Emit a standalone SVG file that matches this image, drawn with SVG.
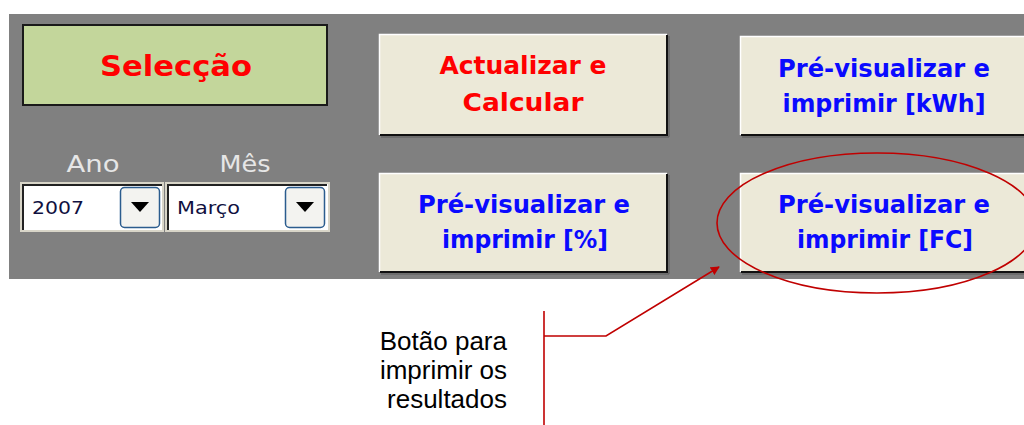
<svg xmlns="http://www.w3.org/2000/svg" width="1024" height="425" viewBox="0 0 1024 425">
<style>
.btn{fill:#ece9d8}
.hl{stroke:#ffffff;stroke-width:1.5;fill:none}
.sh{stroke:#111111;stroke-width:2;fill:none}
.sh2{stroke:#5a5a5a;stroke-width:1;fill:none}
.bt{font-family:"DejaVu Sans",Verdana,sans-serif;font-weight:bold;font-size:24px;text-anchor:middle}
.red{fill:#ff0000}
.blue{fill:#0a0aff}
.lbl{font-family:"DejaVu Sans",sans-serif;font-size:23px;fill:#e6e6e6;text-anchor:middle}
.cb{font-family:"DejaVu Sans",Tahoma,sans-serif;font-size:18px;fill:#101040}
.dd{fill:#f3f3f0;stroke:#2b5c8e;stroke-width:1.5}
.ann{stroke:#c00000;stroke-width:1.6;fill:none}
.note{font-family:"Liberation Sans",Arial,sans-serif;font-size:26px;fill:#000000;text-anchor:end}
</style>
<defs>
<marker id="arr" viewBox="0 0 10 10" refX="9" refY="5" markerWidth="9" markerHeight="9" markerUnits="userSpaceOnUse" orient="auto">
<path d="M0,0 L10,5 L0,10 z" fill="#c00000"/>
</marker>
</defs>
<rect x="0" y="0" width="1024" height="425" fill="#ffffff"/>
<rect id="panel" x="9" y="14" width="1015" height="265" fill="#808080"/>

<g id="selecao">
<rect x="23" y="25" width="304" height="80" fill="#c3d69b" stroke="#1a1a1a" stroke-width="2"/>
<text x="176" y="76" class="bt red" style="font-size:29px" textLength="152" lengthAdjust="spacingAndGlyphs">Selecção</text>
</g>

<g id="ano">
<text x="93" y="172" class="lbl" textLength="53" lengthAdjust="spacingAndGlyphs">Ano</text>
<rect x="20" y="182" width="144" height="50" fill="#d8d5c8"/>
<rect x="22" y="184" width="140" height="46" fill="#ffffff"/>
<path d="M23,230 V185 H162" stroke="#222222" stroke-width="2" fill="none"/>
<text x="32" y="214" class="cb" textLength="52" lengthAdjust="spacingAndGlyphs">2007</text>
<rect x="120.5" y="187.5" width="39" height="40" rx="4" class="dd"/>
<path d="M131,202 H149 L140,212 z" fill="#000000"/>
</g>

<g id="mes">
<text x="245" y="172" class="lbl" textLength="51" lengthAdjust="spacingAndGlyphs">Mês</text>
<rect x="165" y="182" width="165" height="50" fill="#d8d5c8"/>
<rect x="167" y="184" width="161" height="46" fill="#ffffff"/>
<path d="M168,230 V185 H327" stroke="#222222" stroke-width="2" fill="none"/>
<text x="177" y="214" class="cb" textLength="63" lengthAdjust="spacingAndGlyphs">Março</text>
<rect x="285.5" y="187.5" width="39" height="40" rx="4" class="dd"/>
<path d="M296,202 H314 L305,212 z" fill="#000000"/>
</g>

<g id="btn-actualizar">
<rect x="379" y="34" width="288" height="101" class="btn"/>
<path d="M379.5,135 V34.5 H667" class="hl"/>
<path d="M380,135 H667 V35" class="sh"/>
<path d="M381,137 H669 V36" class="sh2"/>
<text x="523" y="74" class="bt red" textLength="167" lengthAdjust="spacingAndGlyphs">Actualizar e</text>
<text x="523" y="111" class="bt red" textLength="121" lengthAdjust="spacingAndGlyphs">Calcular</text>
</g>

<g id="btn-pct">
<rect x="379" y="173" width="288" height="99" class="btn"/>
<path d="M379.5,272 V173.5 H667" class="hl"/>
<path d="M380,272 H667 V174" class="sh"/>
<path d="M381,274 H669 V175" class="sh2"/>
<text x="524" y="213" class="bt blue" textLength="212" lengthAdjust="spacingAndGlyphs">Pré-visualizar e</text>
<text x="525" y="248" class="bt blue" textLength="166" lengthAdjust="spacingAndGlyphs">imprimir [%]</text>
</g>

<g id="btn-kwh">
<rect x="740" y="36" width="288" height="99" class="btn"/>
<path d="M740.5,135 V36.5 H1028" class="hl"/>
<path d="M741,135 H1028" class="sh"/>
<path d="M742,137 H1028" class="sh2"/>
<text x="884" y="77" class="bt blue" textLength="212" lengthAdjust="spacingAndGlyphs">Pré-visualizar e</text>
<text x="884" y="112" class="bt blue" textLength="203" lengthAdjust="spacingAndGlyphs">imprimir [kWh]</text>
</g>

<g id="btn-fc">
<rect x="740" y="173" width="288" height="99" class="btn"/>
<path d="M740.5,272 V173.5 H1028" class="hl"/>
<path d="M741,272 H1028" class="sh"/>
<path d="M742,274 H1028" class="sh2"/>
<text x="884" y="213" class="bt blue" textLength="212" lengthAdjust="spacingAndGlyphs">Pré-visualizar e</text>
<text x="885" y="248" class="bt blue" textLength="176" lengthAdjust="spacingAndGlyphs">imprimir [FC]</text>
</g>

<g id="highlight">
<ellipse cx="877" cy="223" rx="160" ry="70" class="ann"/>
</g>

<g id="connectors">
<path d="M544,311 V425" class="ann"/>
<path d="M544,336 H606 L719,267" class="ann" marker-end="url(#arr)"/>
</g>

<g id="note">
<text x="507" y="350" class="note">Botão para</text>
<text x="507" y="379" class="note">imprimir os</text>
<text x="507" y="408" class="note">resultados</text>
</g>
</svg>
